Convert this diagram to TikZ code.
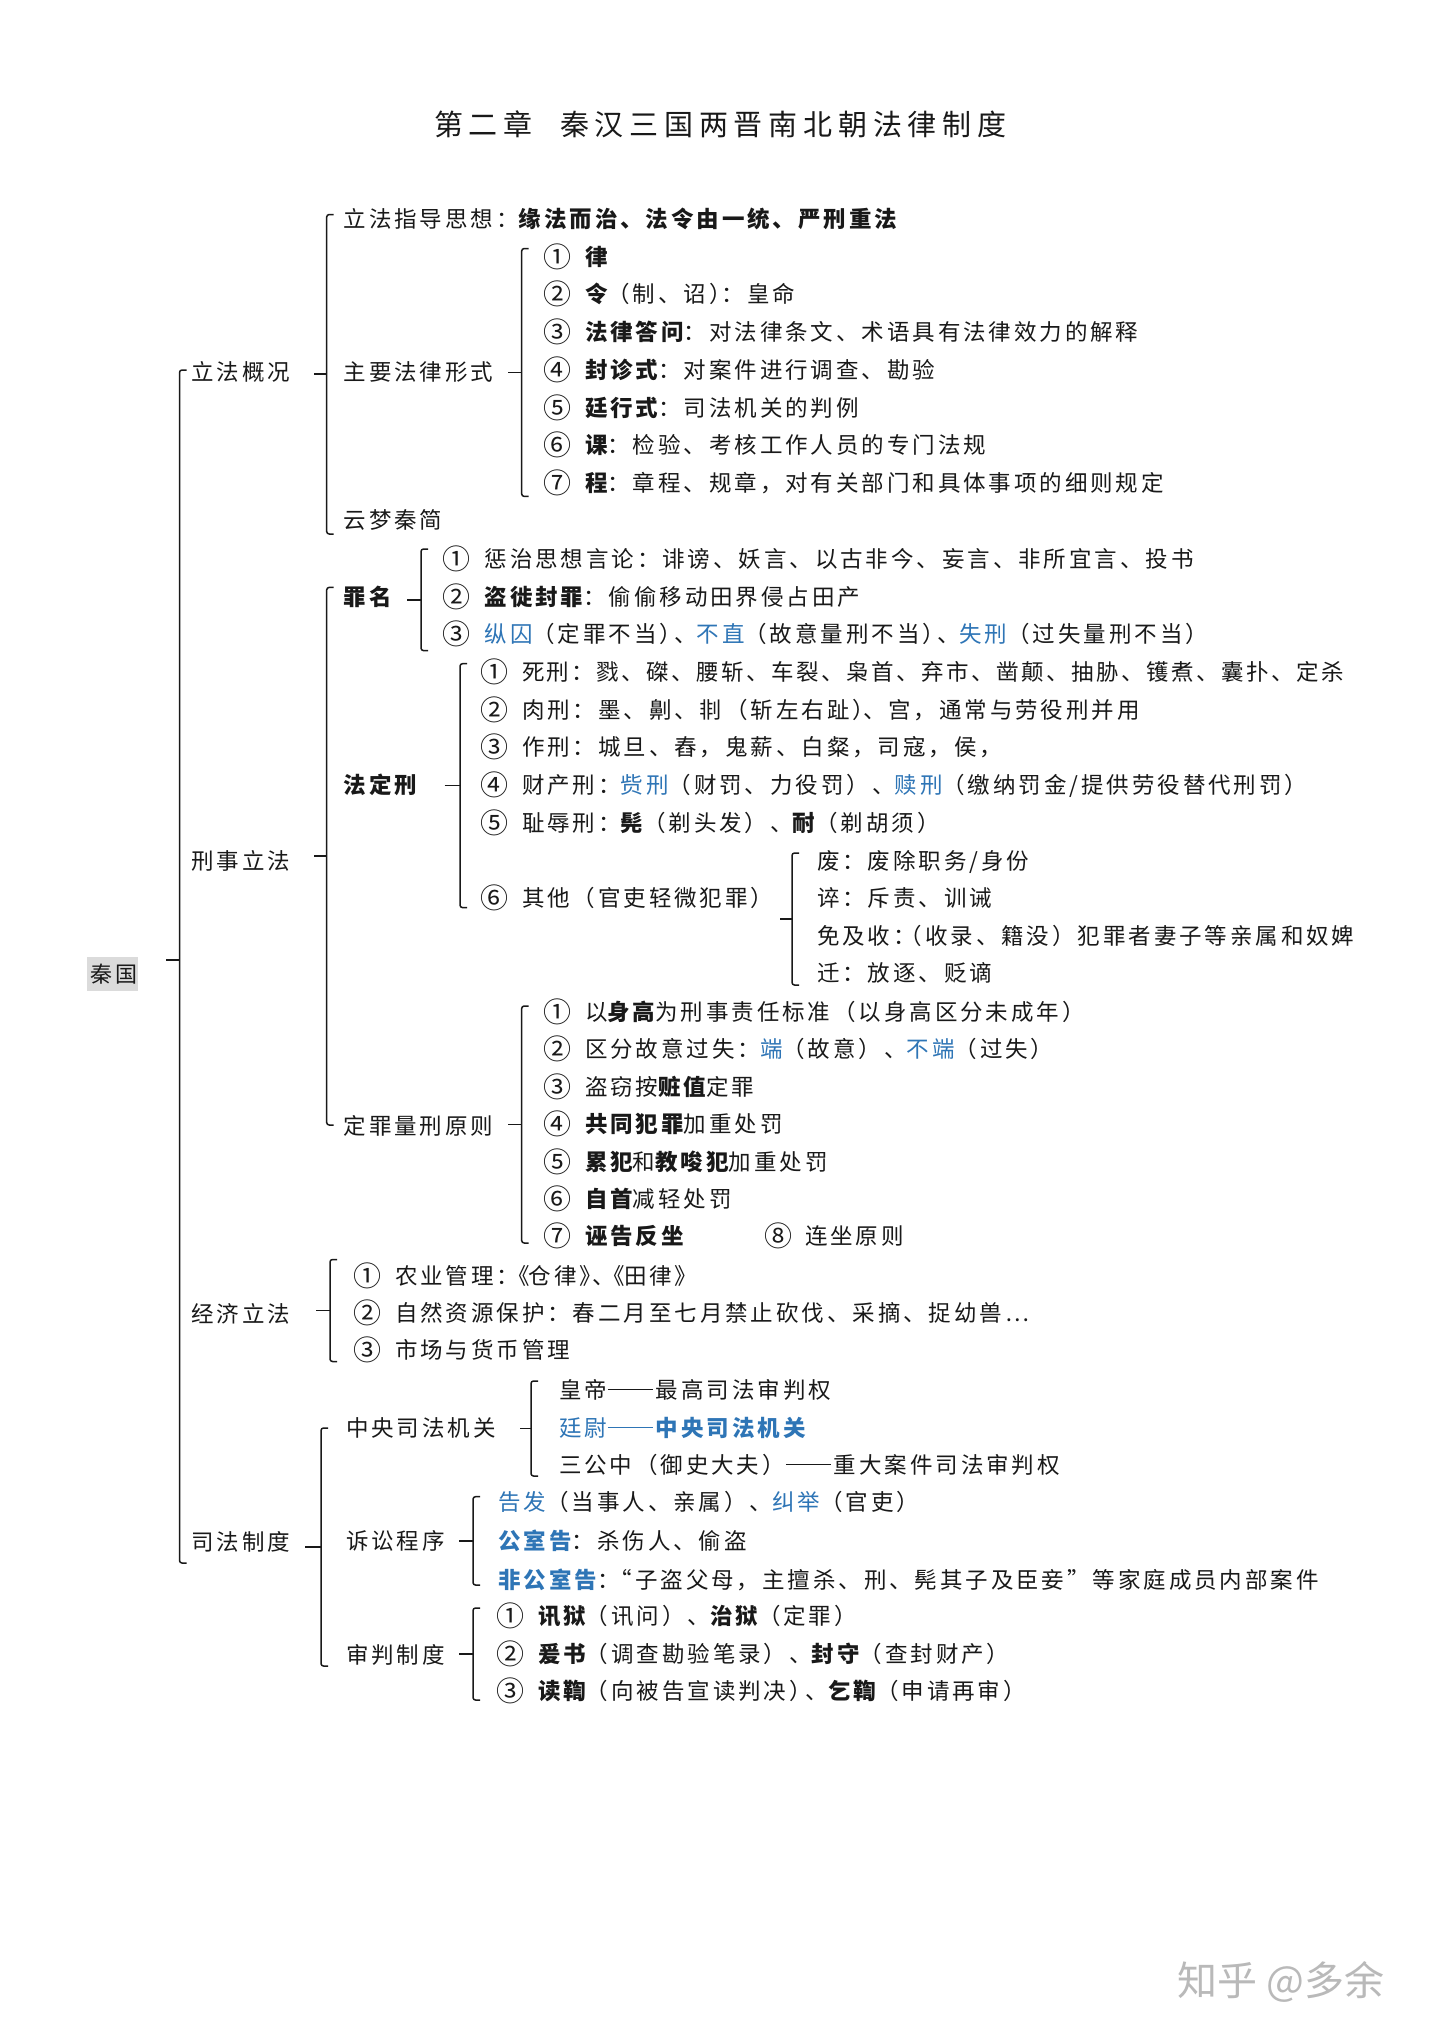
\documentclass[tikz,border=0pt]{standalone}
\usepackage{fontspec}
\setmainfont{Noto Sans CJK SC}[LetterSpace=13]
\newfontfamily\qplain{Noto Sans CJK SC}
\definecolor{qblue}{RGB}{46,117,182}
\definecolor{ink}{RGB}{25,25,25}
\newcommand\qb[1]{{\bfseries #1}}
\newcommand\qbl[1]{\textcolor{qblue}{#1}}
\newcommand\qdash{\kern1pt\rule[8pt]{45pt}{1.3pt}\kern3pt}
\newcommand\qk[1]{\kern-#1pt\relax}
\tikzset{
 txt/.style={anchor=base west, inner sep=0pt, outer sep=0pt, text=ink, font=\fontsize{22.5pt}{26pt}\selectfont},
 num/.style={anchor=base west, inner sep=0pt, outer sep=0pt, text=ink, font=\fontsize{28pt}{30pt}\selectfont},
 brk/.style={draw=ink, line width=1.5pt},
}
\newcommand\Brk[5]{\draw[brk, rounded corners=2.5pt] (#1+7,#2) -- (#1,#2) -- (#1,#3) -- (#1+7,#3); \draw[brk] (#4,#5) -- (#1,#5);}
\newcommand\Item[5]{\node[num] (#1n) at (#2-2,#3+2) {#4}; \node[txt] (#1) at (#2+40,#3) {#5};}
\begin{document}
\begin{tikzpicture}[x=1pt,y=-1pt]
\fill[white] (0,0) rectangle (1440,2037);
\useasboundingbox (0,0) rectangle (1440,2037);
% title
\node[txt, font=\fontsize{29pt}{32pt}\selectfont\addfontfeature{LetterSpace=20}] (t1) at (434,135.7) {第二章};
\node[txt, font=\fontsize{29pt}{32pt}\selectfont\addfontfeature{LetterSpace=20}] (t2) at (560,135.7) {秦汉三国两晋南北朝法律制度};
% root
\node[fill=gray!28, inner sep=0pt, minimum width=51pt, minimum height=34pt, text=ink, font=\fontsize{22pt}{25pt}\selectfont] (root) at (112.5,974) {秦国\kern-2.9pt};
\Brk{179.5}{370}{1563}{166}{960}
% level 1
\node[txt] (lf) at (191.5,380) {立法概况};
\node[txt] (xs) at (191.5,869) {刑事立法};
\node[txt] (jj) at (191.5,1322) {经济立法};
\node[txt] (sf) at (191.5,1550) {司法制度};
% 立法概况
\Brk{326.7}{214.5}{534}{314}{374}
\node[txt] (zd) at (343.7,227.6) {立法指导思想：\qb{缘法而治、法令由一统、严刑重法}};
\node[txt] (xs2) at (343.7,380) {主要法律形式};
\node[txt] (ym) at (343.7,528) {云梦秦简};
\Brk{521.7}{248.5}{496.4}{508}{372.5}
\Item{fa}{545}{265}{①}{\qb{律}}
\Item{fb}{545}{302.75}{②}{\qb{令}（制、诏）\qk{10}：皇命}
\Item{fc}{545}{340.5}{③}{\qb{法律答问}：对法律条文、术语具有法律效力的解释}
\Item{fd}{545}{378.25}{④}{\qb{封诊式}：对案件进行调查、勘验}
\Item{fe}{545}{416}{⑤}{\qb{廷行式}：司法机关的判例}
\Item{ff}{545}{453.75}{⑥}{\qb{课}：检验、考核工作人员的专门法规}
\Item{fg}{545}{491.5}{⑦}{\qb{程}：章程、规章，对有关部门和具体事项的细则规定}
% 刑事立法
\Brk{326.7}{587.4}{1125}{314}{856}
\node[txt] (zm) at (343.7,605.3) {\qb{罪名}};
\node[txt] (fdx) at (343.7,793) {\qb{法定刑}};
\node[txt] (dz) at (343.7,1134) {定罪量刑原则};
\Brk{421}{549}{650.6}{407}{599.8}
\Item{za}{444.6}{567.7}{①}{惩治思想言论：诽谤、妖言、以古非今、妄言、非所宜言、投书}
\Item{zb}{444.6}{605.3}{②}{\qb{盗徙封罪}：偷偷移动田界侵占田产}
\Item{zc}{444.6}{642.8}{③}{\qbl{纵囚}（定罪不当）\qk{8}、\qbl{不直}（故意量刑不当）\qk{8}、\qbl{失刑}（过失量刑不当）}
\Brk{460}{663.7}{907.6}{444.6}{785.6}
\Item{xa}{482}{680.4}{①}{{\addfontfeature{LetterSpace=11}死刑：戮、磔、腰斩、车裂、枭首、弃市、凿颠、抽胁、镬煮、囊扑、定杀}}
\Item{xb}{482}{718}{②}{肉刑：墨、劓、剕（斩左右趾）\qk{12}、宫，通常与劳役刑并用}
\Item{xc}{482}{755.5}{③}{作刑：城旦、舂，鬼薪、白粲，司寇，侯，}
\Item{xd}{482}{793}{④}{财产刑：\qbl{赀刑}（财罚、力役罚）、\qbl{赎刑}（缴纳罚金/提供劳役替代刑罚）}
\Item{xe}{482}{831.5}{⑤}{耻辱刑：\qb{髡}（剃头发）、\qb{耐}（剃胡须）}
\Item{xf}{482}{906.9}{⑥}{其他（官吏轻微犯罪）}
\Brk{792}{853}{985}{780}{919}
\node[txt] (qa) at (817,869.7) {废：废除职务/身份};
\node[txt] (qb) at (817,906.3) {谇：斥责、训诫};
\node[txt] (qc) at (817,944.7) {免及收：\qk{16}（收录、籍没）犯罪者妻子等亲属和奴婢};
\node[txt] (qd) at (817,981.3) {迁：放逐、贬谪};
\Brk{521.7}{1006}{1243}{508}{1124.5}
\Item{da}{545}{1020.5}{①}{以\qb{身高}为刑事责任标准（以身高区分未成年）}
\Item{db}{545}{1057.9}{②}{区分故意过失：\qbl{端}（故意）、\qbl{不端}（过失）}
\Item{dc}{545}{1095.3}{③}{盗窃按\qb{赃值}定罪}
\Item{dd}{545}{1132.7}{④}{\qb{共同犯罪}加重处罚}
\Item{de}{545}{1170.1}{⑤}{\qb{累犯}和\qb{教唆犯}加重处罚}
\Item{df}{545}{1207.5}{⑥}{\qb{自首}减轻处罚}
\Item{dg}{545}{1244.9}{⑦}{\qb{诬告反坐}}
\node[num] (dhn) at (764,1246.9) {⑧};
\node[txt] (dh) at (805,1244.9) {连坐原则};
% 经济立法
\Brk{330}{1259.5}{1361.5}{316}{1310.5}
\Item{ja}{355}{1284.5}{①}{农业管理：\qk{12}《\qk{1}仓律》\qk{10}、\qk{12}《\qk{1}田律》}
\Item{jb}{355}{1321.5}{②}{自然资源保护：春二月至七月禁止砍伐、采摘、捉幼兽…}
\Item{jc}{355}{1358.5}{③}{市场与货币管理}
% 司法制度
\Brk{321}{1428}{1666}{305}{1547}
\node[txt] (zy) at (346,1436) {中央司法机关};
\node[txt] (ss) at (346,1549.7) {诉讼程序};
\node[txt] (sp) at (346,1663) {审判制度};
\Brk{531}{1381}{1476}{520}{1428.5}
\node[txt] (ca) at (559,1398) {皇帝\qdash 最高司法审判权};
\node[txt] (cb) at (559,1436) {\qbl{廷尉\qdash\qb{中央司法机关}}};
\node[txt] (cc) at (559,1473) {三公中（御史大夫）\qdash 重大案件司法审判权};
\Brk{473}{1496.7}{1585}{459}{1541}
\node[txt] (sa) at (498.5,1510.7) {\qbl{告发}（当事人、亲属）、\qbl{纠举}（官吏）};
\node[txt] (sb) at (498.5,1549.7) {\qbl{\qb{公室告}}：杀伤人、偷盗};
\node[txt] (sc) at (498.5,1588) {\qbl{\qb{非公室告}}：\qk{10}“子盗父母，主擅杀、刑、髡其子及臣妾”等家庭成员内部案件};
\Brk{473}{1608}{1700}{459}{1654}
\Item{pa}{498}{1624.7}{①}{\qb{讯狱}（讯问）、\qb{治狱}（定罪）}
\Item{pb}{498}{1662}{②}{\qb{爰书}（调查勘验笔录）、\qb{封守}（查封财产）}
\Item{pc}{498}{1699.7}{③}{\qb{读鞫}（向被告宣读判决）\qk{6}、\qb{乞鞫}（申请再审）}
% watermark
\node[anchor=base west, inner sep=0pt, text=gray!55, font=\qplain\fontsize{40pt}{44pt}\selectfont] (wm) at (1177,1995) {知乎 @多余};
\end{tikzpicture}
\end{document}
